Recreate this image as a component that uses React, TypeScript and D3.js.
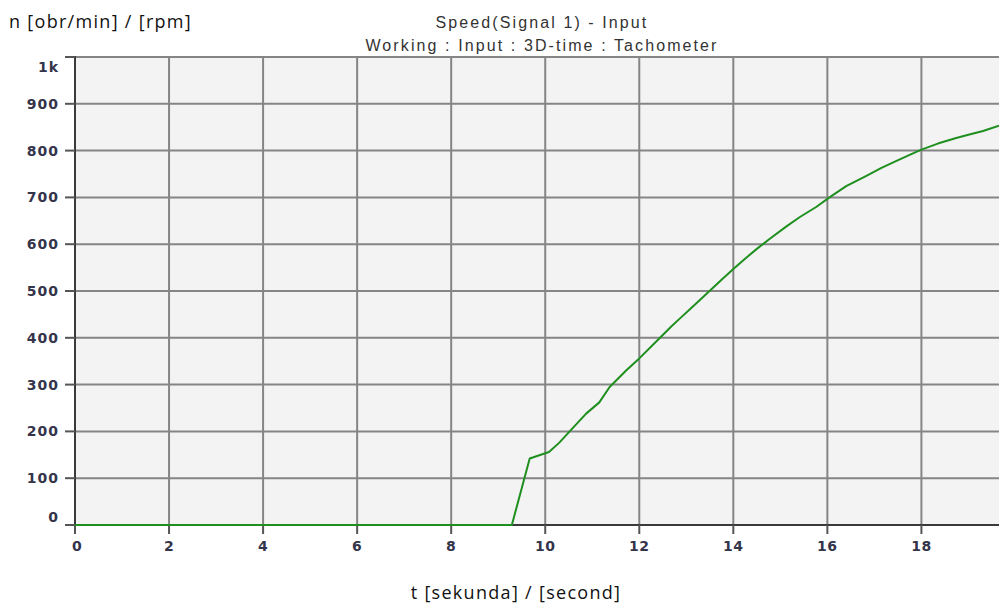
import React from "react";
import * as d3 from "d3";

const TIME_S = [0, 9.29, 9.67, 10.08, 10.3, 10.52, 10.87, 11.15, 11.37, 11.72, 12.0, 12.43, 12.68, 12.86, 13.1, 13.46, 13.75, 14.0, 14.25, 14.5, 14.77, 15.13, 15.4, 15.77, 16.03, 16.4, 16.83, 17.15, 17.47, 17.75, 18.0, 18.35, 18.74, 19.0, 19.31, 19.65];
const SPEED_RPM = [0, 0, 142, 156, 176, 200, 238, 262, 295, 330, 356, 399, 424, 441, 463, 497, 524, 547, 569, 590, 611, 638, 657, 680, 699, 724, 746, 763, 778, 791, 802, 815, 827, 834, 842, 853];

const X_TICKS = [0, 2, 4, 6, 8, 10, 12, 14, 16, 18];
const Y_TICKS = [0, 100, 200, 300, 400, 500, 600, 700, 800, 900, 1000];
const Y_TICK_LABELS = ["0", "100", "200", "300", "400", "500", "600", "700", "800", "900", "1k"];

const TITLE_LINES = ["Speed(Signal 1) - Input", "Working : Input : 3D-time : Tachometer"];
const Y_TITLE = "n [obr/min] / [rpm]";
const X_TITLE = "t [sekunda] / [second]";

const W = 999;
const H = 605;
const M = { left: 75, right: 0, top: 57, bottom: 80 };

export default function App() {
  const x = d3.scaleLinear().domain([0, 19.65]).range([M.left, W - M.right]);
  const y = d3.scaleLinear().domain([0, 1000]).range([H - M.bottom, M.top]);

  const pts: [number, number][] = TIME_S.map((t, i) => [t, SPEED_RPM[i]]);
  const line = d3
    .line<[number, number]>()
    .x((d) => x(d[0]))
    .y((d) => y(d[1]));

  const tickFont = "'DejaVu Sans', Verdana, sans-serif";
  const labelColor = "#34344a";
  const gridColor = "#858585";
  const axisColor = "#3a3a3a";
  const y0 = y(0);
  const xLeft = x(0);

  return (
    <svg
      width={W}
      height={H}
      style={{ position: "absolute", left: 0, top: 0, background: "#fff" }}
    >
      {/* plot background */}
      <rect x={xLeft} y={y(1000)} width={W - xLeft} height={y0 - y(1000)} fill="#f3f3f3" />

      {/* horizontal grid */}
      {Y_TICKS.map((v) => (
        <line key={"gy" + v} x1={xLeft} x2={W} y1={y(v)} y2={y(v)} stroke={gridColor} strokeWidth={2} />
      ))}
      {/* vertical grid */}
      {X_TICKS.filter((t) => t > 0).map((t) => (
        <line key={"gx" + t} x1={x(t)} x2={x(t)} y1={y(1000)} y2={y0} stroke={gridColor} strokeWidth={2} />
      ))}

      {/* axes */}
      <line x1={xLeft} x2={xLeft} y1={y(1000) - 1} y2={y0 + 9} stroke={axisColor} strokeWidth={2} />
      <line x1={xLeft - 10} x2={W} y1={y0} y2={y0} stroke={axisColor} strokeWidth={2} />

      {/* y ticks and labels */}
      {Y_TICKS.map((v, i) => {
        let dy = 0;
        if (v === 1000) dy = 10;
        if (v === 0) dy = -8;
        return (
          <g key={"ty" + v}>
            <line x1={xLeft - 10} x2={xLeft} y1={y(v)} y2={y(v)} stroke="#555" strokeWidth={2} />
            <text
              x={59}
              y={y(v) + dy}
              dy="0.36em"
              textAnchor="end"
              fontFamily={tickFont}
              fontWeight="bold"
              fontSize={14}
              letterSpacing={1}
              fill={labelColor}
            >
              {Y_TICK_LABELS[i]}
            </text>
          </g>
        );
      })}

      {/* x ticks and labels */}
      {X_TICKS.map((t) => (
        <g key={"tx" + t}>
          <line x1={x(t)} x2={x(t)} y1={y0} y2={y0 + 9} stroke="#555" strokeWidth={2} />
          <text
            x={x(t) + (t === 0 ? 2 : 0)}
            y={y0 + 21}
            dy="0.36em"
            textAnchor="middle"
            fontFamily={tickFont}
            fontWeight="bold"
            fontSize={14}
            letterSpacing={0.5}
            fill={labelColor}
          >
            {t}
          </text>
        </g>
      ))}

      {/* signal */}
      <path d={line(pts) ?? ""} fill="none" stroke="#1f8f1f" strokeWidth={2} strokeLinejoin="round" />

      {/* titles */}
      {TITLE_LINES.map((s, i) => (
        <text
          key={s}
          x={542}
          y={28 + i * 23}
          textAnchor="middle"
          fontFamily="'Liberation Sans', Arial, sans-serif"
          fontSize={16}
          letterSpacing={2.1}
          fill="#333"
        >
          {s}
        </text>
      ))}
      <text x={9} y={28} fontFamily="'Open Sans', sans-serif" fontSize={18} letterSpacing={1.3} fill="#111">
        {Y_TITLE}
      </text>
      <text x={516} y={599} textAnchor="middle" fontFamily="'Open Sans', sans-serif" fontSize={18} letterSpacing={1.3} fill="#111">
        {X_TITLE}
      </text>
    </svg>
  );
}
